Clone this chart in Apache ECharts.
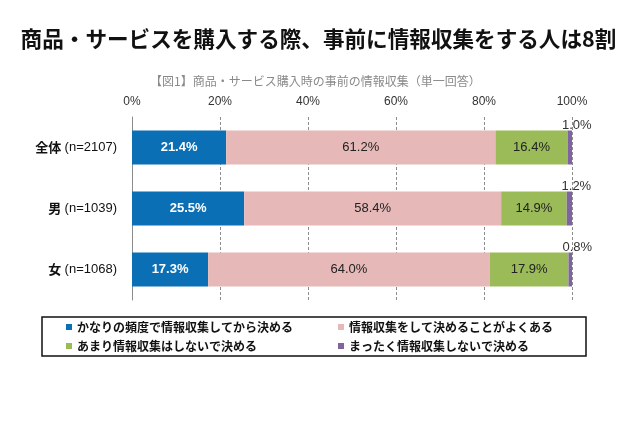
<!DOCTYPE html>
<html><head><meta charset="utf-8">
<script src="https://cdn.jsdelivr.net/npm/echarts@6/dist/echarts.min.js"></script>
<style>html,body{margin:0;padding:0;background:#fff}#c{width:637px;height:426px}</style>
</head><body><div id="c"></div>
<script>
const titleText = '商品・サービスを購入する際、事前に情報収集をする人は8割';
const subTitleText = '【図1】商品・サービス購入時の事前の情報収集（単一回答）';
const groups = ['全体', '男', '女'];
const groupN = ['(n=2107)', '(n=1039)', '(n=1068)'];
const seriesNames = ['かなりの頻度で情報収集してから決める', '情報収集をして決めることがよくある', 'あまり情報収集はしないで決める', 'まったく情報収集しないで決める'];
const vFrequent = [21.4, 25.5, 17.3];
const vOften = [61.2, 58.4, 64.0];
const vRarely = [16.4, 14.9, 17.9];
const vNever = [1.0, 1.2, 0.8];
const xTicks = [0, 20, 40, 60, 80, 100];

const FONT = '"Liberation Sans", "Noto Sans CJK JP", sans-serif';
const colors = ['#0B6FB5', '#E6B9B8', '#9BBB59', '#8064A2'];
const categories = groups.map((g, i) => g + '|' + groupN[i]);
const values = [vFrequent, vOften, vRarely, vNever];

const chart = echarts.init(document.getElementById('c'));
const series = values.map((vals, si) => ({
  name: seriesNames[si],
  type: 'bar',
  stack: 'total',
  barWidth: 34,
  data: vals,
  itemStyle: { color: colors[si] },
  label: si === 3 ? {
    show: true, position: 'top', distance: 0, offset: [7, 1],
    formatter: p => p.value.toFixed(1) + '%',
    fontFamily: FONT, fontSize: 13, color: '#333'
  } : {
    show: true, position: 'inside',
    formatter: p => p.value.toFixed(1) + '%',
    fontFamily: FONT, fontSize: 13,
    color: si === 0 ? '#fff' : '#222',
    fontWeight: si === 0 ? 'bold' : 'normal'
  }
}));

chart.setOption({
  animation: false,
  backgroundColor: '#fff',
  title: [
    { text: titleText, left: 'center', top: 23,
      textStyle: { fontFamily: '"Noto Sans CJK JP", sans-serif', fontSize: 21.6, fontWeight: 'bold', color: '#111' } },
    { text: subTitleText, left: 145, top: 70,
      textStyle: { fontFamily: '"Noto Sans CJK JP", sans-serif', fontSize: 12, fontWeight: 'normal', color: '#8a8a8a' } }
  ],
  grid: { left: 132, right: 65, top: 117, bottom: 126, containLabel: false },
  xAxis: {
    type: 'value', position: 'top', min: xTicks[0], max: xTicks[xTicks.length - 1], interval: 20,
    axisLine: { show: false }, axisTick: { show: false },
    axisLabel: { formatter: '{value}%', fontFamily: FONT, fontSize: 12, color: '#333', margin: 9 },
    splitLine: { show: true, lineStyle: { color: '#8c8c8c', type: [3, 2], width: 1 } }
  },
  yAxis: {
    type: 'category', inverse: true, data: categories,
    axisLine: { show: true, lineStyle: { color: '#8c8c8c', width: 1 } },
    axisTick: { show: false },
    axisLabel: {
      margin: 15,
      formatter: v => { const [g, n] = v.split('|'); return '{b|' + g + '} {n|' + n + '}'; },
      rich: {
        b: { fontFamily: '"Noto Sans CJK JP", sans-serif', fontWeight: 'bold', fontSize: 13, color: '#111' },
        n: { fontFamily: FONT, fontSize: 13, color: '#111' }
      }
    }
  },
  legend: {
    left: 42, top: 317, width: 510,
    orient: 'horizontal',
    padding: [3, 33, 3, 24],
    borderColor: '#111', borderWidth: 1.5,
    itemWidth: 6, itemHeight: 6, itemGap: 5,
    icon: 'rect',
    data: seriesNames,
    formatter: name => {
      const idx = seriesNames.indexOf(name);
      return (idx % 2 === 0 ? '{a|' : '{c|') + name + '}';
    },
    textStyle: {
      fontFamily: '"Noto Sans CJK JP", sans-serif', fontSize: 12, fontWeight: 'bold', color: '#111',
      lineHeight: 14, height: 14,
      rich: {
        a: { width: 256, height: 14, fontFamily: '"Noto Sans CJK JP", sans-serif', fontSize: 12, fontWeight: 'bold', color: '#111', lineHeight: 14 },
        c: { height: 14, fontFamily: '"Noto Sans CJK JP", sans-serif', fontSize: 12, fontWeight: 'bold', color: '#111', lineHeight: 14 }
      }
    }
  },
  series: series
});
</script></body></html>
